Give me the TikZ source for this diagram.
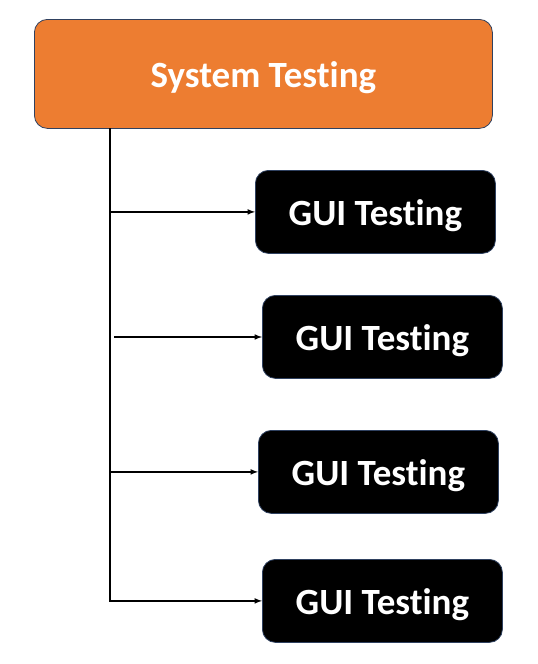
\documentclass[tikz,border=0pt]{standalone}
\usepackage{fontspec}
\setmainfont{Carlito}[Ligatures=NoCommon, RawFeature={-liga;-clig}]

\definecolor{sysorange}{HTML}{ED7D31}
\definecolor{edgeblue}{HTML}{2F4160}

\begin{document}
\begin{tikzpicture}[x=1pt, y=-1pt,
    testbox/.style={rectangle, rounded corners=13pt, draw=edgeblue, line width=0.8pt,
        text=white, inner sep=0pt, anchor=north west, text height=30pt, text depth=3pt,
        font=\bfseries\fontsize{37}{40}\selectfont},
    guibox/.style={testbox, fill=black, minimum width=240pt, minimum height=83pt},
    link/.style={line width=1.5pt, -latex}]
    \useasboundingbox (0,0) rectangle (538,664);
    \node[testbox, fill=sysorange, minimum width=458pt, minimum height=109pt] (sys) at (34,19) {System Testing};
    \node[guibox] (gui1) at (255,170) {GUI Testing};
    \node[guibox] (gui2) at (262,295) {GUI Testing};
    \node[guibox] (gui3) at (258,430) {GUI Testing};
    \node[guibox] (gui4) at (262,559) {GUI Testing};
    \coordinate (trunk) at (110,128);
    \coordinate (stub) at (114,337);
    \draw[link] (trunk) |- (gui4.west);
    \draw[link] (trunk |- gui1.west) -- (gui1.west);
    \draw[link] (stub) -- (stub -| gui2.west);
    \draw[link] (trunk |- gui3.west) -- (gui3.west);
\end{tikzpicture}
\end{document}
